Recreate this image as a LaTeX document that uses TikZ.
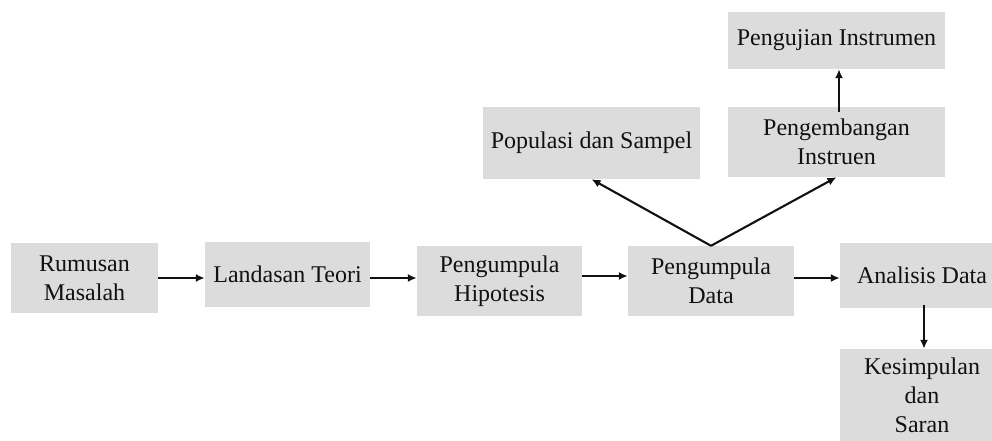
\documentclass[tikz,border=0pt]{standalone}
\usepackage{fontspec}
\setmainfont{Liberation Serif}
\usetikzlibrary{arrows.meta}
\definecolor{boxgray}{HTML}{DCDCDC}
\definecolor{ink}{HTML}{111111}
\tikzset{
  box/.style={fill=boxgray, draw=none, inner sep=0pt, align=center, text=ink,
    font=\fontsize{24pt}{29pt}\selectfont},
  arr/.style={draw=ink, line width=2.1pt, -{Latex[length=9pt,width=8pt]}},
}
\begin{document}
\begin{tikzpicture}[x=1pt,y=-1pt]
\useasboundingbox (0,0) rectangle (992,441);
\node[box, minimum width=147pt, minimum height=70pt] (ru) at (84.5,278) {Rumusan\\Masalah};
\node[box, minimum width=165pt, minimum height=65pt] (la) at (287.5,274.5) {Landasan Teori};
\node[box, minimum width=165pt, minimum height=70pt] (hi) at (499.5,281) {Pengumpula\\Hipotesis};
\node[box, minimum width=166pt, minimum height=70pt] (da) at (711,281) {Pengumpula\\Data};
\node[box, minimum width=152pt, minimum height=65pt] (an) at (916,275.5) {\hspace*{12pt}Analisis Data};
\node[box, minimum width=152pt, minimum height=92pt] (ke) at (916,395) {\hspace*{12pt}Kesimpulan\\\hspace*{12pt}dan\\\hspace*{12pt}Saran};
\node[box, minimum width=217pt, minimum height=72pt] (po) at (591.5,143) {Populasi dan Sampel};
\node[box, minimum width=217pt, minimum height=70pt] (pe) at (836.5,142) {Pengembangan\\Instruen};
\node[box, minimum width=217pt, minimum height=57pt] (pu) at (836.5,40.5) {Pengujian Instrumen};

\draw[arr] (ru.east) -- (ru.east -| la.west);
\draw[arr] ([yshift=-3.5pt]la.east) -- ([yshift=-3.5pt]la.east -| hi.west);
\draw[arr] ([yshift=5pt]hi.east) -- ([yshift=5pt]hi.east -| da.west);
\draw[arr] ([yshift=3pt]da.east) -- ([yshift=3pt]da.east -| an.west);
\draw[arr] ([xshift=8pt,yshift=3pt]an.south) -- ([xshift=8pt]an.south |- ke.north);
\draw[arr] (da.north) -- (po.south);
\draw[arr] (da.north) -- (pe.south);
\draw[arr] ([xshift=2.5pt,yshift=-5pt]pe.north) -- ([xshift=2.5pt]pe.north |- pu.south);
\end{tikzpicture}
\end{document}
